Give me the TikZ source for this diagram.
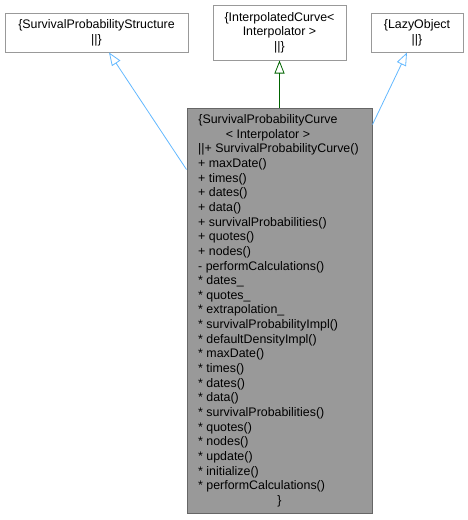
\documentclass[tikz,border=0pt]{standalone}
\usepackage{fontspec}
\setmainfont{Liberation Sans}
\usetikzlibrary{arrows.meta}
\definecolor{edgeblue}{HTML}{63B8FF}
\definecolor{edgegreen}{HTML}{006400}
\definecolor{boxgray}{HTML}{999999}
\definecolor{mainfill}{HTML}{999999}
\definecolor{mainborder}{HTML}{666666}
\begin{document}
\begin{tikzpicture}[x=1pt,y=-1pt,
  txt/.style={font=\fontsize{12.4}{14.65}\selectfont, inner sep=0pt},
  classbox/.style={draw=boxgray, line width=1pt, fill=white, align=center, txt},
  mainbox/.style={draw=mainborder, fill=mainfill, line width=1pt, inner sep=0pt},
  pubedge/.style={draw=edgeblue, line width=0.8pt, -{Triangle[open,length=13pt,width=10pt]}},
  protedge/.style={draw=edgegreen, line width=0.8pt, -{Triangle[open,length=13pt,width=10pt]}}]
\useasboundingbox (0,0) rectangle (468,520);
\node[classbox, minimum width=183pt, minimum height=39pt] (sps) at (96.5,32.5) {\{SurvivalProbabilityStructure\\||\}};
\node[classbox, minimum width=133pt, minimum height=55pt] (ic) at (279.5,32.5) {\{InterpolatedCurve<\\Interpolator >\\||\}};
\node[classbox, minimum width=92pt, minimum height=39pt] (lazy) at (417,32.5) {\{LazyObject\\||\}};
\node[mainbox, minimum width=185pt, minimum height=405pt] (main) at (279.5,310.5) {};
\node[txt, anchor=base] (t1) at (268,123.5) {\{SurvivalProbabilityCurve};
\node[txt, anchor=base] (t2) at (268,138.15) {< Interpolator >};
\foreach [count=\i from 3] \s in {{||+ SurvivalProbabilityCurve()},{+ maxDate()},{+ times()},{+ dates()},{+ data()},{+ survivalProbabilities()},{+ quotes()},{+ nodes()},{- performCalculations()},{* dates\_},{* quotes\_},{* extrapolation\_},{* survivalProbabilityImpl()},{* defaultDensityImpl()},{* maxDate()},{* times()},{* dates()},{* data()},{* survivalProbabilities()},{* quotes()},{* nodes()},{* update()},{* initialize()},{* performCalculations()}}
  \node[txt, anchor=base west] (t\i) at (198,{123.5+14.65*(\i-1)}) {\s};
\node[txt, anchor=base] (t27) at (279.5,504) {\}};
\draw[pubedge] ([yshift=-62pt]main.north west) -- ([xshift=12.5pt]sps.south);
\draw[protedge] (main.north) -- (ic.south);
\draw[pubedge] ([yshift=-17pt]main.north east) -- ([xshift=-10pt]lazy.south);
\end{tikzpicture}
\end{document}
